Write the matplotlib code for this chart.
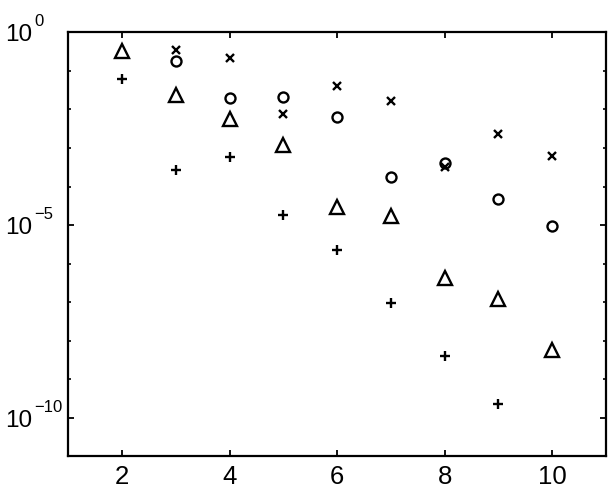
import matplotlib
matplotlib.use("Agg")
import matplotlib.pyplot as plt
import numpy as np
from matplotlib.ticker import FixedLocator, NullFormatter

plt.rcParams['font.family'] = ['Liberation Sans', 'DejaVu Sans']

# data (log10 values)
x_tri = [2, 3, 4, 5, 6, 7, 8, 9, 10]
logy_tri = [-0.48, -1.63, -2.25, -2.92, -4.52, -4.76, -6.38, -6.92, -8.24]

x_circ = [3, 4, 5, 6, 7, 8, 9, 10]
logy_circ = [-0.74, -1.71, -1.68, -2.19, -3.76, -3.38, -4.33, -5.02]

x_cross = [3, 4, 5, 6, 7, 8, 9, 10]
logy_cross = [-0.47, -0.67, -2.13, -1.38, -1.77, -3.50, -2.65, -3.22]

x_plus = [2, 3, 4, 5, 6, 7, 8, 9]
logy_plus = [-1.22, -3.56, -3.23, -4.73, -5.65, -7.01, -8.39, -9.63]

xticks = [2, 4, 6, 8, 10]
ytick_exponents = [0, -5, -10]

fig = plt.figure(figsize=(6.11, 4.91), dpi=100)
ax = fig.add_axes([0.1118, 0.0703, 0.88, 0.8639])

pw = 1.7
ax.plot(x_tri, 10.0 ** np.array(logy_tri), linestyle='none', marker='^',
        markersize=9.5, markerfacecolor='none', markeredgecolor='black', markeredgewidth=pw)
ax.plot(x_circ, 10.0 ** np.array(logy_circ), linestyle='none', marker='o',
        markersize=7.2, markerfacecolor='none', markeredgecolor='black', markeredgewidth=pw)
ax.plot(x_cross, 10.0 ** np.array(logy_cross), linestyle='none', marker='x',
        markersize=5.2, markerfacecolor='none', markeredgecolor='black', markeredgewidth=pw)
ax.plot(x_plus, 10.0 ** np.array(logy_plus), linestyle='none', marker='+',
        markersize=6.8, markerfacecolor='none', markeredgecolor='black', markeredgewidth=pw)

ax.set_yscale('log')
ax.set_xlim(1, 11)
ax.set_ylim(1e-11, 1e0)

ax.set_xticks(xticks)
ax.set_xticklabels([str(t) for t in xticks])
ax.xaxis.set_minor_locator(FixedLocator([]))

major_vals = [10.0 ** e for e in ytick_exponents]
ax.yaxis.set_major_locator(FixedLocator(major_vals))
ax.yaxis.set_major_formatter(NullFormatter())
minor = [10.0 ** (-k) for k in range(0, 12) if k % 5 != 0]
ax.yaxis.set_minor_locator(FixedLocator(minor))
ax.yaxis.set_minor_formatter(NullFormatter())

# y tick labels: base "10" with a smaller raised exponent (MATLAB style)
ytr = ax.get_yaxis_transform()
for e, v in zip(ytick_exponents, major_vals):
    ax.annotate('10', xy=(0, v), xycoords=ytr, xytext=(-45.8, -6.6),
                textcoords='offset points', ha='left', va='baseline',
                fontsize=17.5, annotation_clip=False)
    ax.annotate(str(e).replace('-', '\u2212'), xy=(0, v), xycoords=ytr,
                xytext=(-24.4, 4.6), textcoords='offset points',
                ha='left', va='baseline', fontsize=12, annotation_clip=False)

for s in ax.spines.values():
    s.set_linewidth(1.6)

ax.tick_params(axis='both', which='major', direction='in', length=4, width=1.3,
               top=True, right=True)
ax.tick_params(axis='x', which='major', pad=6, labelsize=18.5)
ax.tick_params(axis='y', which='minor', direction='in', length=2, width=1.2,
               left=True, right=True)

fig.savefig('out.png', dpi=100)
